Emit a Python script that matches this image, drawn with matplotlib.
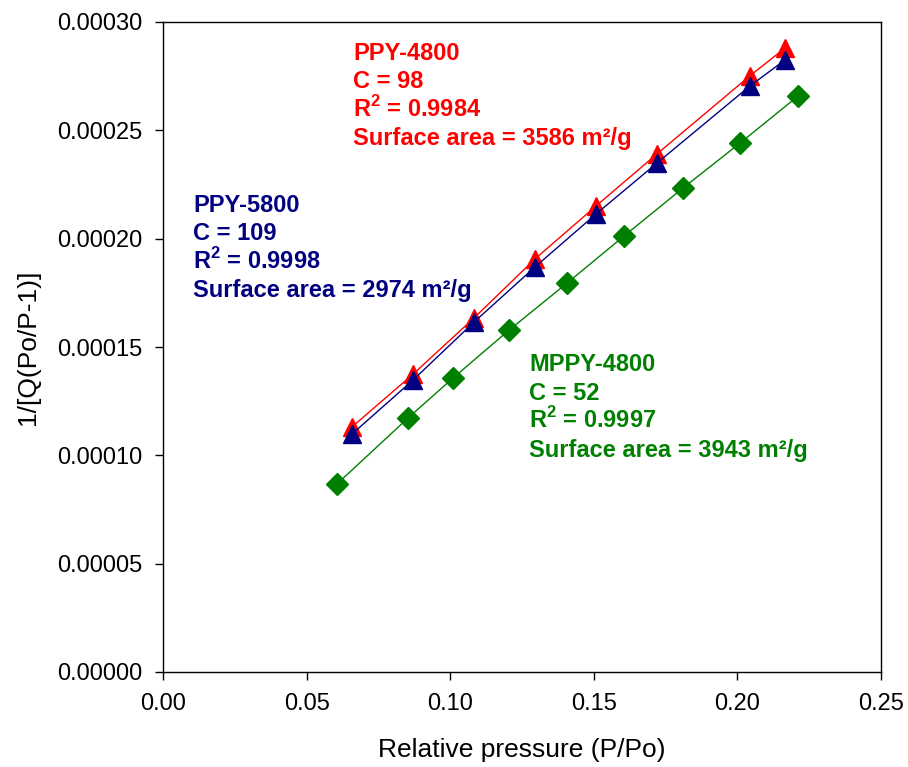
import numpy as np
import matplotlib.pyplot as plt

plt.rcParams['font.family'] = ['Liberation Sans', 'DejaVu Sans']
plt.rcParams['mathtext.fontset'] = 'custom'
plt.rcParams['mathtext.rm'] = 'Liberation Sans'
plt.rcParams['mathtext.bf'] = 'Liberation Sans:bold'

# BET plot data
x_ppy4800 = [0.0658, 0.0871, 0.1083, 0.1295, 0.1508, 0.1720, 0.2044, 0.2166]
y_ppy4800 = [0.0001131, 0.0001375, 0.0001634, 0.0001906, 0.0002151, 0.0002391, 0.0002752, 0.0002880]

x_ppy5800 = [0.0658, 0.0871, 0.1083, 0.1295, 0.1508, 0.1720, 0.2044, 0.2166]
y_ppy5800 = [0.0001098, 0.0001348, 0.0001615, 0.0001869, 0.0002114, 0.0002349, 0.0002705, 0.0002825]

x_mppy4800 = [0.0606, 0.0853, 0.1010, 0.1205, 0.1407, 0.1605, 0.1811, 0.2009, 0.2211]
y_mppy4800 = [0.0000868, 0.0001172, 0.0001357, 0.0001578, 0.0001795, 0.0002012, 0.0002234, 0.0002441, 0.0002658]

xticks = [0.00, 0.05, 0.10, 0.15, 0.20, 0.25]
yticks = [0.00000, 0.00005, 0.00010, 0.00015, 0.00020, 0.00025, 0.00030]

labels_ppy4800 = ['PPY-4800', 'C = 98', r'R$^{\mathbf{2}}$ = 0.9984', 'Surface area = 3586 m²/g']
labels_ppy5800 = ['PPY-5800', 'C = 109', r'R$^{\mathbf{2}}$ = 0.9998', 'Surface area = 2974 m²/g']
labels_mppy4800 = ['MPPY-4800', 'C = 52', r'R$^{\mathbf{2}}$ = 0.9997', 'Surface area = 3943 m²/g']

fig = plt.figure(figsize=(9.08, 7.67), dpi=100)
ax = fig.add_axes([163/908, 95/767, 718/908, 650/767])

ax.plot(x_ppy4800, y_ppy4800, color='#ff0000', lw=1, marker='^', ms=13.5, mec='#ff0000')
ax.plot(x_ppy5800, y_ppy5800, color='#000080', lw=1, marker='^', ms=13.5, mec='#000080')
ax.plot(x_mppy4800, y_mppy4800, color='#008000', lw=1, marker='D', ms=11, mec='#008000')

ax.set_xlim(0, 0.25)
ax.set_ylim(0, 0.0003)
ax.set_xticks(xticks)
ax.set_xticklabels(['%.2f' % v for v in xticks])
ax.set_yticks(yticks)
ax.set_yticklabels(['%.5f' % v for v in yticks])
ax.tick_params(direction='out', length=6, width=1, pad=9, labelsize=17, top=False, right=False)
ax.set_xlabel('Relative pressure (P/Po)', fontsize=19, labelpad=17)
ax.set_ylabel('1/[Q(Po/P-1)]', fontsize=19, labelpad=12)
for s in ax.spines.values():
    s.set_linewidth(1)

def block(x0, y0, lines, color):
    # x0, y0 in pixels from the top-left of the axes frame
    for i, t in enumerate(lines):
        ax.text((x0 - 163) / 718, (672 - y0 - i * 28.5) / 650, t, transform=ax.transAxes,
                color=color, fontsize=17, fontweight='bold', va='baseline', ha='left')

block(353, 60, labels_ppy4800, '#ff0000')
block(193, 212, labels_ppy5800, '#000080')
block(529, 371, labels_mppy4800, '#008000')

fig.savefig('out.png', dpi=100)
